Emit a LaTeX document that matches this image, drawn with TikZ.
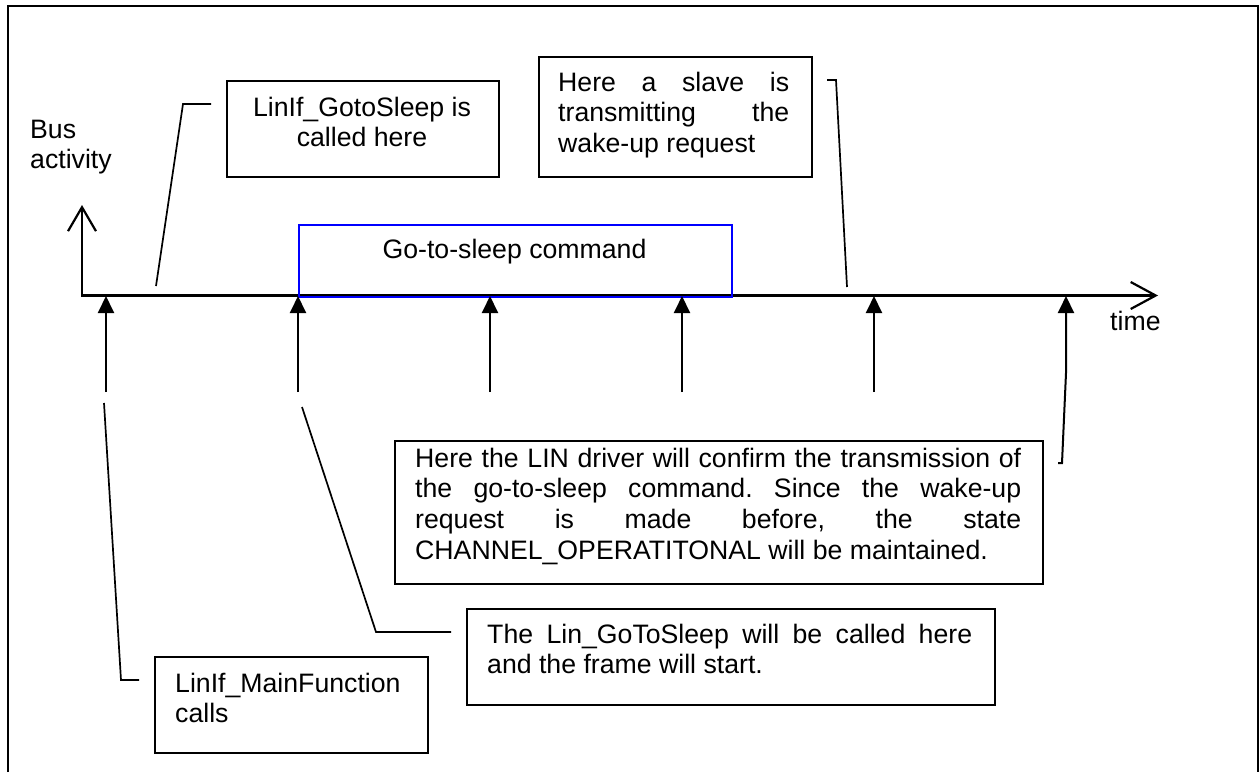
\documentclass[tikz,border=0pt]{standalone}
\usepackage{fontspec}
\setmainfont{Liberation Sans}
\usetikzlibrary{arrows.meta}
\frenchspacing
\begin{document}
\begin{tikzpicture}[x=1pt,y=-1pt,
  box/.style={draw=black,line width=2.2pt,rectangle,inner sep=0pt,anchor=north west},
  txt/.style={inner sep=0pt,font=\fontsize{26.67pt}{30.67pt}\selectfont,anchor=base west},
  axisline/.style={line width=2.2pt},
  tickarrow/.style={line width=2pt,-{Triangle[length=17pt,width=16pt]}},
  callout/.style={line width=1.7pt},
]
\useasboundingbox (0,0) rectangle (1260,772);
% frame
\draw[line width=2.4pt] (8,772) -- (8,6) -- (1258,6) -- (1258,772);

% axes
\coordinate (O) at (82,295.5);
\coordinate (Y) at (82,205);
\coordinate (X) at (1158,295.5);
\draw[axisline,{Straight Barb[length=24pt,width=28pt]}-{Straight Barb[length=25pt,width=27pt]}] (Y) -- (O) -- (X);

% blue command box
\node[box,draw=blue,minimum width=433pt,minimum height=71.5pt] (cmd) at (298,224) {};
\node[txt,anchor=base] (cmdt) at (514.5,258) {Go-to-sleep command};

% tick arrows
\foreach \i/\x in {1/106,2/298,3/490,4/682,5/874}{
  \coordinate (tb\i) at (\x,392);
  \coordinate (ta\i) at (\x,296);
  \draw[tickarrow] (tb\i) -- (ta\i);
}
\coordinate (tb6) at (1058,463);
\coordinate (tk6) at (1062,463);
\coordinate (tm6) at (1066,373);
\coordinate (ta6) at (1066,296);
\draw[tickarrow] (tb6) -- (tk6) -- (tm6) -- (ta6);

% boxes
\node[box,minimum width=272pt,minimum height=96pt] (bGoto) at (226,80) {};
\node[box,minimum width=273pt,minimum height=120pt] (bSlave) at (538,56) {};
\node[box,minimum width=648pt,minimum height=143pt] (bBig) at (394,440) {};
\node[box,minimum width=528pt,minimum height=96pt] (bLinGo) at (466,608) {};
\node[box,minimum width=273pt,minimum height=96pt] (bMain) at (154,656) {};

% callouts
\coordinate (gA) at (156,286); \coordinate (gB) at (183,104); \coordinate (gC) at (211,104);
\draw[callout] (gA) -- (gB) -- (gC);
\coordinate (sA) at (827,80); \coordinate (sB) at (836,80); \coordinate (sC) at (847,287);
\draw[callout] (sA) -- (sB) -- (sC);
\coordinate (lA) at (302,407); \coordinate (lB) at (376,632); \coordinate (lC) at (451,632);
\draw[callout] (lA) -- (lB) -- (lC);
\coordinate (mA) at (104,403); \coordinate (mB) at (121,680); \coordinate (mC) at (139,680);
\draw[callout] (mA) -- (mB) -- (mC);

% texts
\node[txt] (bus) at (30,138) {\begin{tabular}[t]{@{}l@{}}Bus\\activity\end{tabular}};
\node[txt] (time) at (1110,330) {time};
\node[txt,anchor=base] (gotoT) at (362,116) {\begin{tabular}[t]{@{}c@{}}LinIf\_GotoSleep is\\called here\end{tabular}};
\node[txt] (slaveT) at (558,91) {\begin{tabular}[t]{@{}l@{}}\makebox[231pt][s]{Here a slave is}\\\makebox[231pt][s]{transmitting the}\\wake-up request\end{tabular}};
\node[txt] (bigT) at (415,467) {\begin{tabular}[t]{@{}l@{}}\makebox[606pt][s]{Here the LIN driver will confirm the transmission of}\\\makebox[606pt][s]{the go-to-sleep command. Since the wake-up}\\\makebox[606pt][s]{request is made before, the state}\\CHANNEL\_OPERATITONAL will be maintained.\end{tabular}};
\node[txt] (linGoT) at (487,643) {\begin{tabular}[t]{@{}l@{}}\makebox[485pt][s]{The Lin\_GoToSleep will be called here}\\and the frame will start.\end{tabular}};
\node[txt] (mainT) at (175,692) {\begin{tabular}[t]{@{}l@{}}LinIf\_MainFunction\\calls\end{tabular}};
\end{tikzpicture}
\end{document}
